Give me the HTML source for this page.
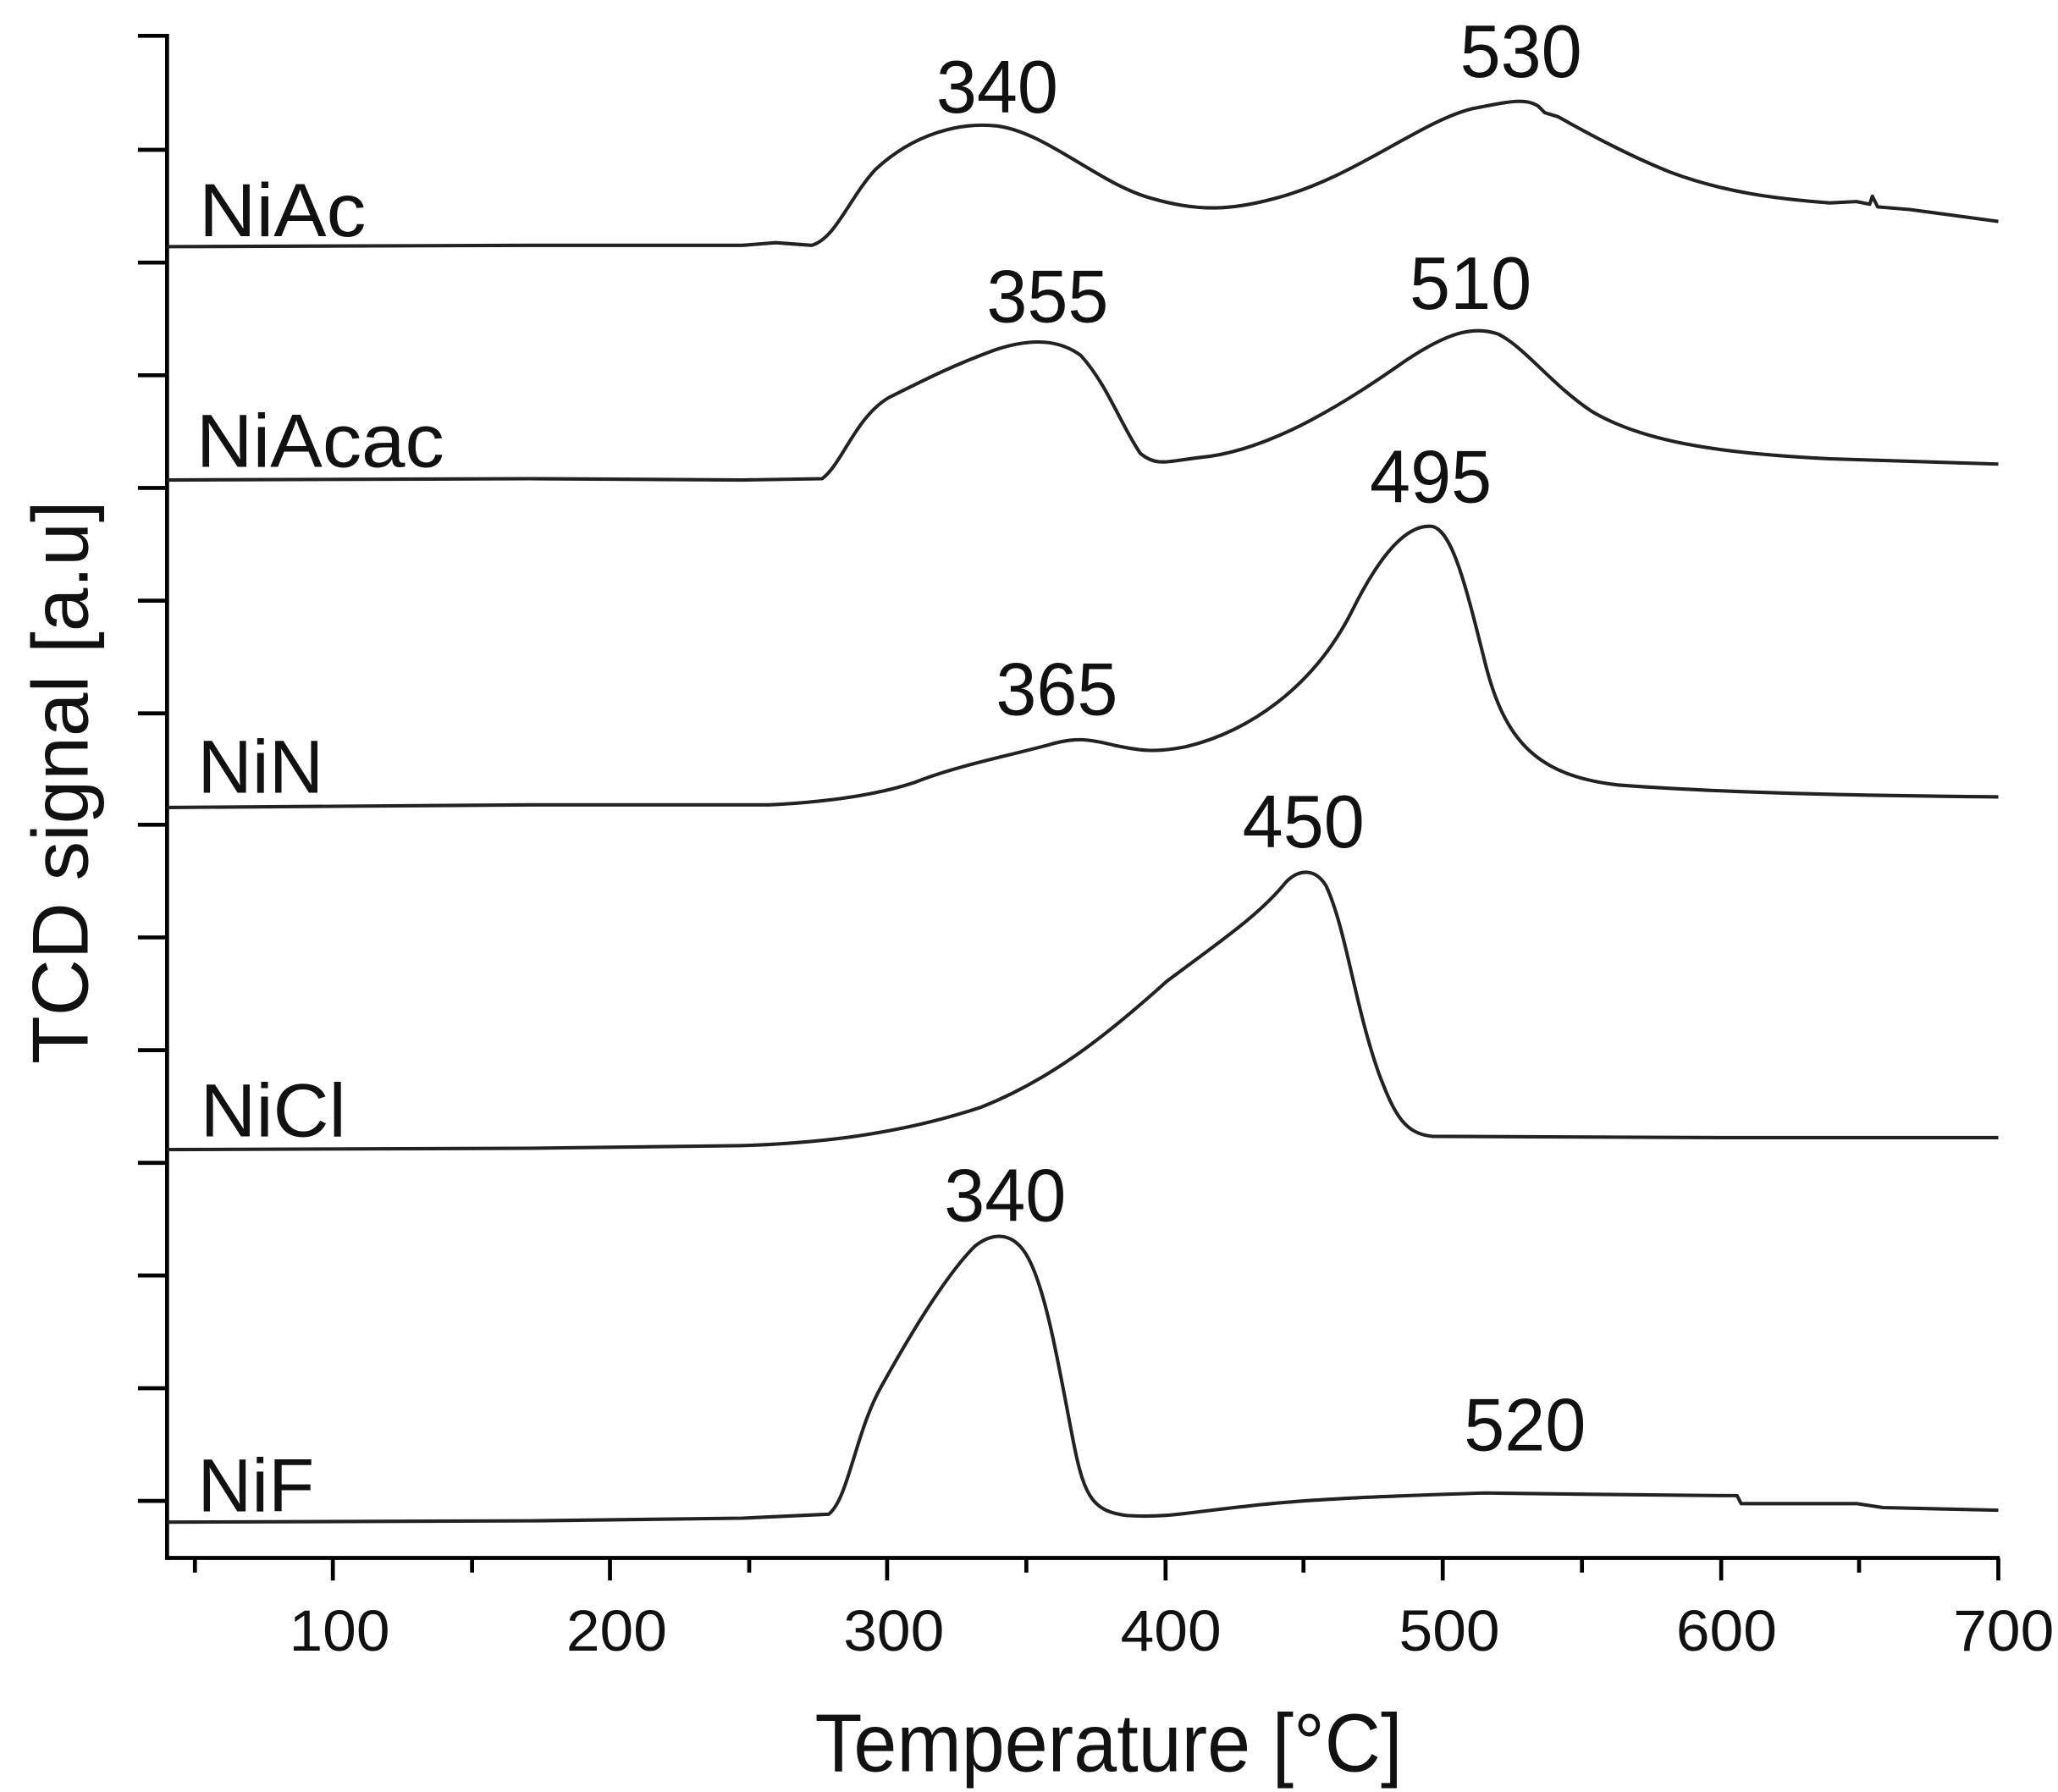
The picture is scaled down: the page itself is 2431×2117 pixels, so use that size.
<!DOCTYPE html>
<html><head><meta charset="utf-8"><style>html,body{margin:0;padding:0;background:#fff}svg{display:block}</style></head>
<body>
<svg width="2431" height="2117" viewBox="0 0 1552 1351.5" xmlns="http://www.w3.org/2000/svg" font-family="Liberation Sans, Arial, sans-serif">
<rect width="1552" height="1351.5" fill="#fff"/>
<g stroke="#000" stroke-width="3" fill="none">
<path d="M104 27H126V1175H1508"/>
<path d="M104 113H126M104 198H126M104 283H126M104 368H126M104 453H126M104 538H126M104 622H126M104 707H126M104 792H126M104 877H126M104 962H126M104 1047H126M104 1132H126"/>
<path d="M251 1175v17M460 1175v17M669 1175v17M879 1175v17M1088 1175v17M1298 1175v17M1507 1175v17"/>
<path d="M147 1175v11M356 1175v11M565 1175v11M774 1175v11M983 1175v11M1193 1175v11M1402 1175v11"/>
</g>
<g stroke="#222" stroke-width="2.6" fill="none" stroke-linejoin="round">
<path d="M126 186 L400 185 L560 185 L585 183 L612 185 C630 180 640 150 660 128 C690 100 725 92 752 95 C790 100 830 140 870 150 C905 160 930 158 960 150 C1020 135 1070 92 1110 82 C1140 76 1150 74 1160 80 L1165 85 L1175 88 C1205 105 1235 120 1260 130 C1300 145 1340 150 1380 153 L1400 152 L1410 154 L1412 148 L1416 156 L1440 158 L1470 162 L1507 167"/>
<path d="M126 362 L400 361 L560 362 L620 361 C635 350 645 315 670 300 C700 285 720 275 750 264 C780 254 800 257 815 268 C835 290 845 320 860 342 C872 352 880 348 905 345 C960 340 1020 300 1060 272 C1090 252 1110 245 1130 252 C1150 262 1170 290 1200 310 C1240 334 1300 342 1380 346 L1507 350"/>
<path d="M126 609 L400 607 L580 607 C620 605 660 600 690 590 C720 578 760 570 790 562 C810 556 820 557 840 562 C860 566 870 568 895 563 C940 552 990 520 1020 460 C1040 420 1060 395 1080 397 C1095 400 1105 440 1120 500 C1135 560 1160 585 1220 592 C1300 598 1400 600 1507 601"/>
<path d="M126 867 L400 866 L560 864 C620 862 680 855 740 835 C790 815 830 785 880 740 C920 710 950 690 970 665 C980 655 992 655 1000 668 C1015 700 1022 760 1040 810 C1052 842 1060 855 1080 857 L1300 858 L1507 858"/>
<path d="M126 1148 L400 1147 L560 1145 L625 1142 C640 1130 645 1080 665 1045 C690 1000 715 960 735 940 C750 928 765 930 775 948 C790 975 800 1040 810 1090 C818 1130 825 1140 850 1143 C880 1145 900 1140 940 1136 C990 1130 1060 1128 1120 1126 L1200 1127 L1300 1128 L1310 1128 L1313 1134 L1400 1134 L1420 1137 L1507 1139"/>
</g>
<g fill="#111" font-size="57">
<text x="150" y="178" textLength="126" lengthAdjust="spacingAndGlyphs">NiAc</text>
<text x="148" y="352" textLength="187" lengthAdjust="spacingAndGlyphs">NiAcac</text>
<text x="149" y="598" textLength="95" lengthAdjust="spacingAndGlyphs">NiN</text>
<text x="151" y="857" textLength="110" lengthAdjust="spacingAndGlyphs">NiCl</text>
<text x="149" y="1140" textLength="88" lengthAdjust="spacingAndGlyphs">NiF</text>
</g>
<g fill="#111" font-size="56" text-anchor="middle" lengthAdjust="spacingAndGlyphs">
<text x="752" y="85" textLength="92" lengthAdjust="spacingAndGlyphs">340</text>
<text x="1147" y="58" textLength="92" lengthAdjust="spacingAndGlyphs">530</text>
<text x="790" y="243" textLength="92" lengthAdjust="spacingAndGlyphs">355</text>
<text x="1109" y="233" textLength="92" lengthAdjust="spacingAndGlyphs">510</text>
<text x="1079" y="379" textLength="92" lengthAdjust="spacingAndGlyphs">495</text>
<text x="797" y="539" textLength="92" lengthAdjust="spacingAndGlyphs">365</text>
<text x="983" y="639" textLength="92" lengthAdjust="spacingAndGlyphs">450</text>
<text x="758" y="921" textLength="92" lengthAdjust="spacingAndGlyphs">340</text>
<text x="1150" y="1094" textLength="92" lengthAdjust="spacingAndGlyphs">520</text>
</g>
<g fill="#111" font-size="44" text-anchor="middle">
<text x="256" y="1245" textLength="76" lengthAdjust="spacingAndGlyphs">100</text>
<text x="465" y="1245" textLength="76" lengthAdjust="spacingAndGlyphs">200</text>
<text x="674" y="1245" textLength="76" lengthAdjust="spacingAndGlyphs">300</text>
<text x="883" y="1245" textLength="76" lengthAdjust="spacingAndGlyphs">400</text>
<text x="1093" y="1245" textLength="76" lengthAdjust="spacingAndGlyphs">500</text>
<text x="1302" y="1245" textLength="76" lengthAdjust="spacingAndGlyphs">600</text>
<text x="1511" y="1245" textLength="76" lengthAdjust="spacingAndGlyphs">700</text>
</g>
<text x="836" y="1336" font-size="62" text-anchor="middle" fill="#111" textLength="443" lengthAdjust="spacingAndGlyphs">Temperature [°C]</text>
<text transform="translate(66,590) rotate(-90)" font-size="60" text-anchor="middle" fill="#111" textLength="425" lengthAdjust="spacingAndGlyphs">TCD signal [a.u]</text>
</svg>
</body></html>
